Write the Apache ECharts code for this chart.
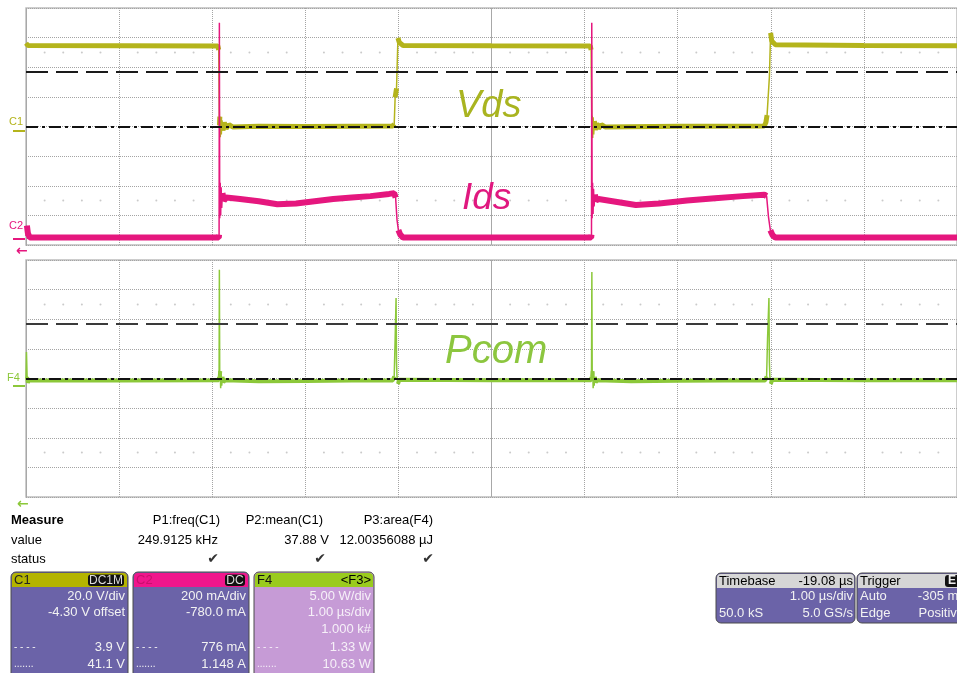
<!DOCTYPE html>
<html><head><meta charset="utf-8">
<script src="https://cdn.jsdelivr.net/npm/echarts@6/dist/echarts.min.js"></script>
<style>html,body{margin:0;padding:0;background:#fff;overflow:hidden}#c{width:957px;height:673px}</style>
</head><body><div id="c"></div>
<script>
// ---- time axis: µs, 1.00 µs/div, 10 divisions ----
const timeMin = 0, timeMax = 10;
const divisions = 4; // ± divisions vertically per panel

// ---- channel scales (per division, value at screen centre) ----
const c1Scale = { perDiv: 20, center: 4.3 };     // V
const c2Scale = { perDiv: 0.2, center: 0.78 };   // A
const f4Scale = { perDiv: 5, center: 1.33 };     // W

// ---- waveforms: [time µs, value] ----
const vds = [
 [0.00,60.5],[0.02,59.0],[2.06,58.7],[2.07,56.0],[2.078,5.0],[2.082,11.0],[2.087,-3.0],[2.092,10.0],
 [2.098,-1.0],[2.105,8.5],[2.115,1.5],[2.13,7.0],[2.15,3.0],[2.18,5.5],[2.22,4.0],[2.5,4.5],[3.0,4.3],
 [3.5,4.5],[3.94,4.6],[3.955,6.0],[3.965,24.0],[3.98,30.0],[3.995,64.0],[4.01,61.0],[4.05,59.0],
 [5.0,58.8],[6.06,58.7],[6.07,56.0],[6.078,5.0],[6.082,11.5],[6.087,-3.5],[6.092,10.5],[6.098,-1.0],
 [6.105,8.0],[6.115,2.0],[6.13,6.5],[6.15,3.0],[6.18,5.5],[6.22,4.0],[7.0,4.4],[7.93,4.6],[7.947,7.0],
 [7.96,12.0],[7.985,38.0],[7.998,67.5],[8.01,62.0],[8.05,59.5],[9.0,59.0],[10.0,58.8]
];
const ids = [
 [0.00,0.04],[0.01,0.11],[0.02,0.06],[0.04,0.03],[1.0,0.03],[2.07,0.03],[2.074,0.05],[2.077,1.48],
 [2.081,0.16],[2.086,0.40],[2.091,0.18],[2.096,0.37],[2.102,0.23],[2.11,0.33],[2.125,0.28],[2.15,0.30],
 [2.3,0.29],[2.5,0.275],[2.7,0.255],[2.9,0.26],[3.1,0.275],[3.3,0.29],[3.5,0.30],[3.7,0.31],[3.9,0.325],
 [3.955,0.33],[3.97,0.30],[3.985,0.15],[4.0,0.08],[4.02,0.05],[4.05,0.03],[5.0,0.03],[6.07,0.03],
 [6.074,0.05],[6.077,1.48],[6.081,0.16],[6.086,0.40],[6.091,0.19],[6.096,0.36],[6.102,0.24],[6.11,0.32],
 [6.125,0.28],[6.15,0.29],[6.3,0.275],[6.55,0.25],[6.8,0.26],[7.1,0.28],[7.4,0.295],[7.7,0.31],
 [7.93,0.32],[7.955,0.31],[7.975,0.17],[7.995,0.08],[8.02,0.045],[8.05,0.03],[10.0,0.03]
];
const pcom = [
 [0.0,1.3],[0.005,5.8],[0.012,1.6],[0.02,0.6],[0.03,1.05],[1.0,1.0],[2.07,1.05],[2.074,1.6],[2.077,19.7],
 [2.081,1.6],[2.086,2.6],[2.091,-0.3],[2.096,2.3],[2.102,0.1],[2.11,1.6],[2.12,0.7],[2.14,1.05],[2.5,0.85],
 [3.0,0.9],[3.5,1.0],[3.94,1.0],[3.955,1.7],[3.965,8.0],[3.975,14.9],[3.98,4.0],[3.985,1.6],[3.995,0.4],
 [4.01,1.1],[5.0,1.05],[6.07,1.05],[6.074,1.6],[6.078,19.3],[6.082,1.6],[6.087,2.6],[6.092,-0.3],
 [6.097,2.3],[6.103,0.1],[6.11,1.6],[6.12,0.7],[6.14,1.05],[6.5,0.85],[7.0,0.95],[7.5,1.0],[7.94,1.0],
 [7.955,1.7],[7.965,8.0],[7.98,14.9],[7.985,4.0],[7.99,1.6],[8.0,0.4],[8.015,1.1],[9.0,1.05],[10.0,1.05]
];

// ---- cursors ----
const c1Cursors = { dashDot: 3.9, dashed: 41.1 };   // V
const f4Cursors = { dashDot: 1.33, dashed: 10.63 }; // W

// ---- measurement table ----
const measureNames  = ["P1:freq(C1)", "P2:mean(C1)", "P3:area(F4)"];
const measureValues = ["249.9125 kHz", "37.88 V", "12.00356088 µJ"];

// ---- channel descriptors ----
const c1Lines = ["20.0 V/div", "-4.30 V offset", "", "3.9 V", "41.1 V"];
const c2Lines = ["200 mA/div", "-780.0 mA", "", "776 mA", "1.148 A"];
const f4Lines = ["5.00 W/div", "1.00 µs/div", "1.000 k#", "1.33 W", "10.63 W"];
const timebase = { delay: "-19.08 µs", perDiv: "1.00 µs/div", samples: "50.0 kS", rate: "5.0 GS/s" };
const trigger  = { mode: "Auto", level: "-305 mV", type: "Edge", slope: "Positive" };

// colours
const colVds = '#b4b41c', colIds = '#e5177e', colPcom = '#8cc83a';
const FONT = '"Liberation Sans", Arial, sans-serif';

function band(arr, thr) {
  const out = [arr[0]];
  for (let i = 1; i < arr.length; i++) {
    if (Math.abs(arr[i][1] - arr[i-1][1]) > thr) out.push([arr[i][0], '-']);
    out.push(arr[i]);
  }
  return out;
}
function range(s) { return { min: s.center - divisions * s.perDiv, max: s.center + divisions * s.perDiv }; }

// decorative grid dots rows at ±2.5 div
const dots = [];
for (let d = 0; d < 10; d++) for (const f of [0.2,0.4,0.6,0.8]) { dots.push([d+f, 2.5]); dots.push([d+f, -2.5]); }

const chart = echarts.init(document.getElementById('c'), null, { renderer: 'canvas' });
const dotted = { type: 'dotted', color: '#a4a4a4', width: 1 };
function xAx(gi, interval, ls) {
  return { gridIndex: gi, type: 'value', min: timeMin, max: timeMax, interval,
    axisLine: { show: false }, axisTick: { show: false }, axisLabel: { show: false },
    splitLine: { show: true, lineStyle: ls } };
}
function yDiv(gi) {
  return { gridIndex: gi, type: 'value', min: -divisions, max: divisions, interval: 1,
    axisLine: { show: false }, axisTick: { show: false }, axisLabel: { show: false },
    splitLine: { show: true, lineStyle: dotted } };
}
function yHidden(gi, s) { const r = range(s); return { gridIndex: gi, type: 'value', min: r.min, max: r.max, show: false, splitLine: { show: false } }; }

const dashedStyle = { type: [22, 8], color: '#1a1a1a', width: 2 };
const dashDotStyle = { type: [12, 4, 3, 4], color: '#111', width: 2 };

function T(x, y, text, o) {
  return { type: 'text', x, y, z: 100, silent: true,
    style: Object.assign({ text, fill: '#000', font: '13px ' + FONT, textAlign: 'left', textVerticalAlign: 'middle' }, o || {}) };
}
function R(x, y, w, h, fill, o) {
  return { type: 'rect', z: 90, silent: true, shape: Object.assign({ x, y, width: w, height: h }, (o && o.shape) || {}),
    style: Object.assign({ fill }, (o && o.style) || {}) };
}

const g = [];
// trace labels
g.push(T(456, 106, 'Vds', { fill: '#a9b420', font: 'italic 38px ' + FONT }));
g.push(T(462, 199, 'Ids', { fill: '#e0187f', font: 'italic 37px ' + FONT }));
g.push(T(445, 352, 'Pcom', { fill: '#8cc63f', font: 'italic 40px ' + FONT }));
// channel markers
g.push(T(9, 122, 'C1', { fill: colVds, font: '11px ' + FONT }));
g.push(R(13, 130, 12, 2, colVds));
g.push(T(9, 226, 'C2', { fill: colIds, font: '11px ' + FONT }));
g.push(R(13, 238, 12, 2, colIds));
g.push(T(16, 251, '←', { fill: colIds, font: 'bold 14px "DejaVu Sans", sans-serif' }));
g.push(T(7, 378, 'F4', { fill: colPcom, font: '11px ' + FONT }));
g.push(R(13, 385, 12, 2, colPcom));
g.push(T(17, 504, '←', { fill: colPcom, font: 'bold 14px "DejaVu Sans", sans-serif' }));
// measurement table
g.push(T(11, 520, 'Measure', { font: 'bold 13px ' + FONT }));
g.push(T(11, 540, 'value'));
g.push(T(11, 559, 'status'));
const colRight = [220, 323, 433], valRight = [218, 329, 433], checkX = [213, 320, 428];
measureNames.forEach((n, i) => g.push(T(colRight[i], 520, n, { textAlign: 'right' })));
measureValues.forEach((v, i) => g.push(T(valRight[i], 540, v, { textAlign: 'right' })));
checkX.forEach(x => g.push(T(x, 559, '✔', { textAlign: 'center', fill: '#333', font: '14px "DejaVu Sans", sans-serif' })));

// channel boxes
function chanBox(x, w, head, headTxt, headTxtCol, badge, body, lines, txtCol, rightTxt) {
  g.push(R(x, 572, w, 110, body, { shape: { r: 5 }, style: { stroke: '#4a4a4a', lineWidth: 1 } }));
  g.push(R(x + 1, 573, w - 2, 14, head, { shape: { r: [4, 4, 0, 0] } }));
  g.push(T(x + 3, 580, headTxt, { fill: headTxtCol }));
  if (badge) {
    const bw = badge.length * 8 + 4;
    g.push(R(x + w - bw - 4, 574.5, bw, 11.5, '#111', { shape: { r: 3 } }));
    g.push(T(x + w - 4 - bw / 2, 580.5, badge, { fill: '#ddd', textAlign: 'center', font: '12px ' + FONT }));
  }
  if (rightTxt) g.push(T(x + w - 3, 580, rightTxt, { textAlign: 'right' }));
  const ys = [596, 612, 629, 647, 664];
  lines.forEach((l, i) => { if (l) g.push(T(x + w - 3, ys[i], l, { fill: txtCol, textAlign: 'right' })); });
  g.push(T(x + 3, 647, '- - - -', { fill: txtCol, font: '10px ' + FONT }));
  g.push(T(x + 3, 664, '.......', { fill: txtCol, font: '10px ' + FONT }));
}
chanBox(11, 117, '#b4b400', 'C1', '#222', 'DC1M', '#6b63a8', c1Lines, '#f2f2f2');
chanBox(133, 116, '#f0168c', 'C2', '#c8106e', 'DC', '#6b63a8', c2Lines, '#f2f2f2');
chanBox(254, 120, '#9acb1e', 'F4', '#111', null, '#c69bd6', f4Lines, '#f6f0f8', '<F3>');

// timebase / trigger
g.push(R(716, 573, 139, 50, '#6b63a8', { shape: { r: 5 }, style: { stroke: '#4a4a4a', lineWidth: 1 } }));
g.push(R(717, 574, 137, 14, '#d6d6d6', { shape: { r: [4, 4, 0, 0] } }));
g.push(T(719, 581, 'Timebase'));
g.push(T(853, 581, timebase.delay, { textAlign: 'right' }));
g.push(T(853, 596, timebase.perDiv, { textAlign: 'right', fill: '#f2f2f2' }));
g.push(T(719, 613, timebase.samples, { fill: '#f2f2f2' }));
g.push(T(853, 613, timebase.rate, { textAlign: 'right', fill: '#f2f2f2' }));
g.push(R(857, 573, 140, 50, '#6b63a8', { shape: { r: 5 }, style: { stroke: '#4a4a4a', lineWidth: 1 } }));
g.push(R(858, 574, 138, 14, '#d6d6d6', { shape: { r: [4, 4, 0, 0] } }));
g.push(T(860, 581, 'Trigger'));
g.push(R(945, 575, 40, 12, '#111', { shape: { r: 3 } }));
g.push(T(948, 581, 'E', { fill: '#eee', font: 'bold 12px ' + FONT }));
g.push(T(860, 596, trigger.mode, { fill: '#f2f2f2' }));
g.push(T(967, 596, trigger.level, { textAlign: 'right', fill: '#f2f2f2' }));
g.push(T(860, 613, trigger.type, { fill: '#f2f2f2' }));
g.push(T(964, 613, trigger.slope, { textAlign: 'right', fill: '#f2f2f2' }));

const option = {
  animation: false,
  backgroundColor: '#ffffff',
  grid: [
    { left: 26, top: 8, width: 940, height: 237, show: true, borderColor: '#bdbdbd', borderWidth: 1.5, backgroundColor: '#fff' },
    { left: 26, top: 260, width: 940, height: 237, show: true, borderColor: '#bdbdbd', borderWidth: 1.5, backgroundColor: '#fff' }
  ],
  xAxis: [
    xAx(0, 1, dotted), xAx(1, 1, dotted),
    xAx(0, 5, { type: 'solid', color: '#a8a8a8', width: 1 }), xAx(1, 5, { type: 'solid', color: '#a8a8a8', width: 1 })
  ],
  yAxis: [ yDiv(0), yHidden(0, c1Scale), yHidden(0, c2Scale), yDiv(1), yHidden(1, f4Scale) ],
  series: [
    { type: 'scatter', xAxisIndex: 0, yAxisIndex: 0, data: dots, symbolSize: 2, itemStyle: { color: '#bdbdbd' }, silent: true, z: 1 },
    { type: 'scatter', xAxisIndex: 1, yAxisIndex: 3, data: dots, symbolSize: 2, itemStyle: { color: '#bdbdbd' }, silent: true, z: 1 },
    { name: 'Vds band', type: 'line', xAxisIndex: 0, yAxisIndex: 1, data: band(vds, 6), symbol: 'none', connectNulls: false, lineStyle: { color: colVds, width: 5 }, z: 3 },
    { name: 'Vds', type: 'line', xAxisIndex: 0, yAxisIndex: 1, data: vds, symbol: 'none', lineStyle: { color: colVds, width: 1.5 }, z: 3 },
    { name: 'Ids band', type: 'line', xAxisIndex: 0, yAxisIndex: 2, data: band(ids, 0.06), symbol: 'none', connectNulls: false, lineStyle: { color: colIds, width: 6 }, z: 4 },
    { name: 'Ids', type: 'line', xAxisIndex: 0, yAxisIndex: 2, data: ids, symbol: 'none', lineStyle: { color: colIds, width: 1.5 }, z: 4 },
    { name: 'Pcom band', type: 'line', xAxisIndex: 1, yAxisIndex: 4, data: band(pcom, 1.2), symbol: 'none', connectNulls: false, lineStyle: { color: colPcom, width: 4 }, z: 3 },
    { name: 'Pcom', type: 'line', xAxisIndex: 1, yAxisIndex: 4, data: pcom, symbol: 'none', lineStyle: { color: colPcom, width: 1.5 }, z: 3 },
    { type: 'line', xAxisIndex: 0, yAxisIndex: 1, data: [], z: 10, symbol: 'none',
      markLine: { silent: true, symbol: 'none', label: { show: false }, animation: false,
        data: [ { yAxis: c1Cursors.dashed, lineStyle: dashedStyle }, { yAxis: c1Cursors.dashDot, lineStyle: dashDotStyle } ] } },
    { type: 'line', xAxisIndex: 1, yAxisIndex: 4, data: [], z: 10, symbol: 'none',
      markLine: { silent: true, symbol: 'none', label: { show: false }, animation: false,
        data: [ { yAxis: f4Cursors.dashed, lineStyle: Object.assign({}, dashedStyle, { color: '#3a3a3a' }) }, { yAxis: f4Cursors.dashDot, lineStyle: dashDotStyle } ] } }
  ],
  graphic: { elements: g }
};
chart.setOption(option);
</script>
</body></html>
